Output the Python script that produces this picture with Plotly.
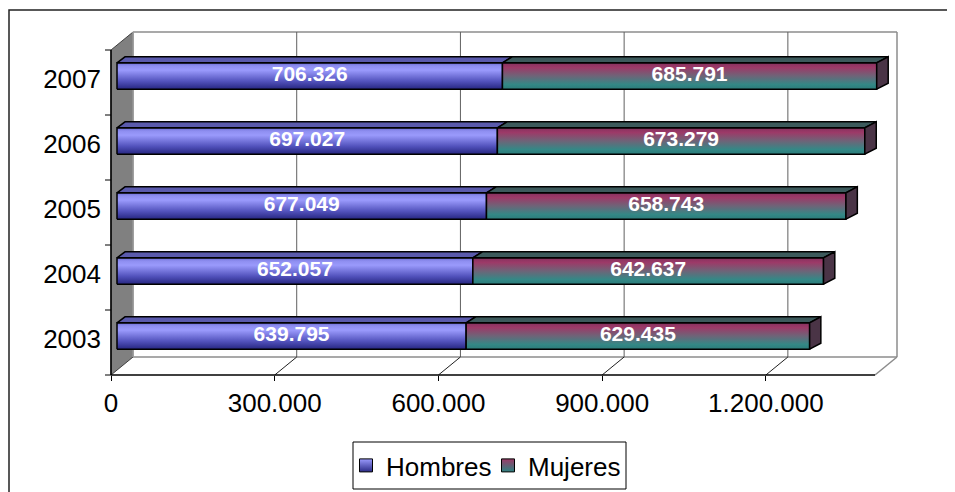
import plotly.graph_objects as go

# data
years = ["2003", "2004", "2005", "2006", "2007"]
hombres = [639795, 652057, 677049, 697027, 706326]
mujeres = [629435, 642637, 658743, 673279, 685791]
x_ticks = [0, 300000, 600000, 900000, 1200000]
x_tick_text = ["0", "300.000", "600.000", "900.000", "1.200.000"]
x_max = 1400000

# the page body has an 8px margin, so the figure starts at (8, 8)
OFF = 8
W, H = 955 - OFF, 492 - OFF
AX_LEFT, AX_BOTTOM = 111 - OFF, 375 - OFF   # front corner of the floor
AX_WIDTH, ROW_H = 764, 65                   # px for x_max, px per category
KX = AX_WIDTH / x_max
WALL_DX, WALL_DY = 22, 18                   # depth of the back wall
BAR_DX, BAR_DY, BAR_HALF = 6, 6.5, 13.2
TOP_DY = 6
FONT = "Arial, Liberation Sans, sans-serif"


def ux(px):
    return px / KX


def uy(px):
    return px / ROW_H


def top_dx(v):
    # slight perspective: depth grows to the right
    return ux(8 + 3.5 * v / x_max)


def fmt(v):
    return f"{v:,}".replace(",", ".")


def px_x(p):
    return (p - OFF) / W


def px_y(p):
    return 1 - (p - OFF) / H


H_SCALE = [[0, "#262680"], [0.3, "#5252bc"], [0.72, "#9a9afc"],
           [0.88, "#8e8ef0"], [1, "#6a6ad2"]]
M_SCALE = [[0, "#2c7c7a"], [0.18, "#348886"], [0.5, "#6e6478"],
           [0.82, "#9c3a68"], [1, "#86305e"]]

fig = go.Figure()

lbl_x, lbl_y, lbl_t = [], [], []
for i, yr in enumerate(years):
    yc = i + 0.5 + uy(BAR_DY)
    y0, y1 = yc - uy(BAR_HALF), yc + uy(BAR_HALF)
    yt = y1 + uy(TOP_DY)
    start = ux(BAR_DX)
    for val, scale, top_col in ((hombres[i], H_SCALE, "#5a5aac"),
                                (mujeres[i], M_SCALE, "#3c5a5c")):
        x0, x1 = start, start + val
        # front face
        fig.add_trace(go.Scatter(
            x=[x0, x1, x1, x0, x0], y=[y0, y0, y1, y1, y0],
            mode="lines", fill="toself",
            fillgradient=dict(type="vertical", colorscale=scale),
            line=dict(color="black", width=1.5),
            showlegend=False, hoverinfo="skip"))
        # top face
        fig.add_trace(go.Scatter(
            x=[x0, x0 + top_dx(x0), x1 + top_dx(x1), x1, x0],
            y=[y1, yt, yt, y1, y1],
            mode="lines", fill="toself", fillcolor=top_col,
            line=dict(color="black", width=1.5),
            showlegend=False, hoverinfo="skip"))
        lbl_x.append((x0 + x1) / 2)
        lbl_y.append(yc)
        lbl_t.append(fmt(val))
        start = x1
    # right end face
    d = top_dx(start)
    fig.add_trace(go.Scatter(
        x=[start, start + d, start + d, start, start],
        y=[y0, y0 + uy(TOP_DY), yt, y1, y0],
        mode="lines", fill="toself", fillcolor="#4a3446",
        line=dict(color="black", width=1.5),
        showlegend=False, hoverinfo="skip"))

fig.add_trace(go.Scatter(
    x=lbl_x, y=lbl_y, text=lbl_t, mode="text",
    textfont=dict(family=FONT, size=21, color="white", weight="bold"),
    showlegend=False, hoverinfo="skip"))

# legend keys
for name, top, bot in (("Hombres", "#9a9afc", "#2a2a86"),
                       ("Mujeres", "#9c3a68", "#2c8482")):
    fig.add_trace(go.Scatter(
        x=[None], y=[None], mode="markers", name=name,
        marker=dict(symbol="square", size=13, color=top,
                    gradient=dict(type="vertical", color=bot),
                    line=dict(color="black", width=1))))

# walls, floor and gridlines
wx, wy = ux(WALL_DX), uy(WALL_DY)
n = len(years)
shapes = [
    dict(type="path", path=f"M 0,0 L 0,{n} L {wx},{n + wy} L {wx},{wy} Z",
         fillcolor="#808080", line=dict(color="#404040", width=1)),
    dict(type="line", x0=wx, y0=n + wy, x1=x_max + wx, y1=n + wy,
         line=dict(color="#8c8c8c", width=1.5)),
    dict(type="line", x0=x_max + wx, y0=wy, x1=x_max + wx, y1=n + wy,
         line=dict(color="#8c8c8c", width=1.5)),
    dict(type="line", x0=wx, y0=wy, x1=x_max + wx, y1=wy,
         line=dict(color="#8c8c8c", width=1.5)),
    dict(type="line", x0=x_max, y0=0, x1=x_max + wx, y1=wy,
         line=dict(color="#8c8c8c", width=1.5)),
    dict(type="line", x0=wx, y0=wy, x1=wx, y1=n + wy,
         line=dict(color="#a0a0a0", width=1.5)),
]
for v in x_ticks[1:]:
    shapes.append(dict(type="line", x0=v + wx, y0=wy, x1=v + wx, y1=n + wy,
                       line=dict(color="#606060", width=1)))
for v in x_ticks[1:]:
    shapes.append(dict(type="line", x0=v, y0=0, x1=v + wx, y1=wy,
                       line=dict(color="#202020", width=1)))
shapes += [
    dict(type="line", x0=0, y0=0, x1=x_max, y1=0,
         line=dict(color="black", width=1.5)),
    dict(type="line", x0=0, y0=0, x1=0, y1=n,
         line=dict(color="black", width=1.5)),
]
for k in range(n + 1):
    shapes.append(dict(type="line", x0=-ux(6), y0=k, x1=0, y1=k,
                       line=dict(color="black", width=1)))
for s in shapes:
    s.update(xref="x", yref="y", layer="below")

# outer chart border and legend box (paper)
shapes.append(dict(type="rect", xref="paper", yref="paper",
                   x0=px_x(9), x1=1.05, y0=-0.05, y1=px_y(10),
                   line=dict(color="#222222", width=1.5)))
shapes.append(dict(type="rect", xref="paper", yref="paper",
                   x0=px_x(353), x1=px_x(626), y0=px_y(489), y1=px_y(442),
                   line=dict(color="black", width=1)))

fig.update_layout(
    width=W, height=H,
    margin=dict(l=0, r=0, t=0, b=0),
    paper_bgcolor="white", plot_bgcolor="white",
    font=dict(family=FONT, size=26, color="black"),
    shapes=shapes,
    xaxis=dict(range=[-AX_LEFT / KX, (W - AX_LEFT) / KX], domain=[0, 1],
               anchor="free", position=(H - AX_BOTTOM) / H,
               tickvals=x_ticks, ticktext=x_tick_text,
               ticks="outside", ticklen=5, tickcolor="black",
               showgrid=False, zeroline=False, showline=False,
               tickfont=dict(size=26)),
    yaxis=dict(range=[-(H - AX_BOTTOM) / ROW_H, AX_BOTTOM / ROW_H],
               domain=[0, 1], anchor="free", position=AX_LEFT / W,
               tickvals=[i + 0.55 for i in range(n)], ticktext=years,
               ticks="", ticklabelstandoff=10,
               showgrid=False, zeroline=False, showline=False,
               tickfont=dict(size=26)),
    legend=dict(orientation="h", x=px_x(346), xanchor="left",
                y=px_y(465.5), yanchor="middle",
                bgcolor="rgba(0,0,0,0)", font=dict(size=26),
                itemwidth=30, entrywidth=97, entrywidthmode="pixels"),
)

fig.write_html("out.html")
